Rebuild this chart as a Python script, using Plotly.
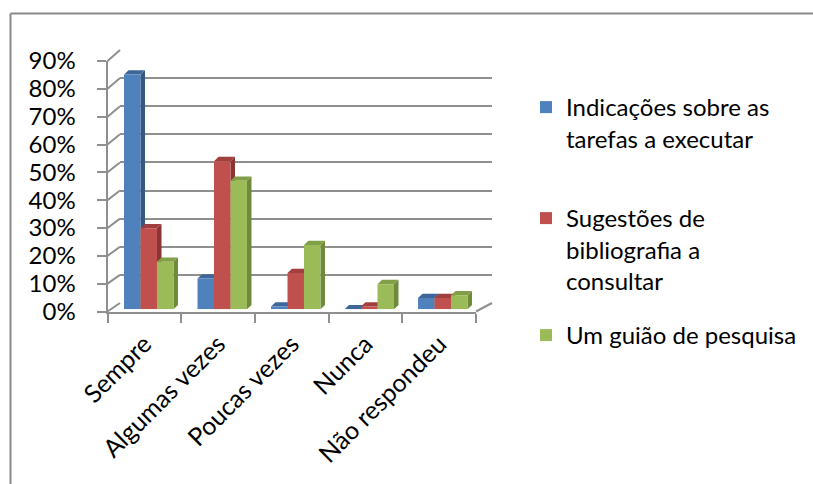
import plotly.graph_objects as go

categories = ["Sempre", "Algumas vezes", "Poucas vezes", "Nunca", "Não respondeu"]
series_names = [
    "Indicações sobre as<br>tarefas a executar",
    "Sugestões de<br>bibliografia a<br>consultar",
    "Um guião de pesquisa",
]
indicacoes = [0.84, 0.11, 0.01, 0.00, 0.04]
sugestoes = [0.29, 0.53, 0.13, 0.01, 0.04]
guiao = [0.17, 0.46, 0.23, 0.09, 0.05]
y_ticks = [0.0, 0.1, 0.2, 0.3, 0.4, 0.5, 0.6, 0.7, 0.8, 0.9]

W, H = 813, 484
FONT = "Lato"
front_colors = ["#4F81BD", "#C0504D", "#9BBB59"]
side_colors = ["#34587F", "#8A3533", "#6E8A3A"]
top_colors = ["#3E6699", "#A03F3D", "#809F47"]
axis_gray = "#8F8F8F"


def px(p):
    return p / W


def py(p):
    return 1 - p / H


YMAX = 0.9
back_x = [120, 492]
back_y0, back_y1 = 303.0, 50.0
front_x = [107.5, 476]
front_y0, front_y1 = 311.5, 61.0
bar_x = [112, 479.5]
bar_y0, bar_y1 = 309.3, 57.7

bargap = 0.327

fig = go.Figure()

fig.add_trace(go.Scatter(x=[0], y=[0], xaxis="x", yaxis="y", mode="markers",
                         marker=dict(opacity=0), showlegend=False, hoverinfo="skip"))
fig.add_trace(go.Scatter(x=categories, y=[0] * len(categories), xaxis="x2", yaxis="y2",
                         mode="markers", marker=dict(opacity=0), showlegend=False,
                         hoverinfo="skip"))

all_series = [indicacoes, sugestoes, guiao]
xs = list(range(len(categories)))
for i, (name, vals) in enumerate(zip(series_names, all_series)):
    fig.add_trace(go.Bar(
        x=xs, y=vals, name=name, xaxis="x3", yaxis="y3",
        marker=dict(color=front_colors[i], line=dict(width=0)),
        legend=["legend", "legend2", "legend3"][i],
    ))

shapes = []
bw = (1 - bargap) / 3
dx = 4.5 * (len(categories)) / (bar_x[1] - bar_x[0])
dy = 4.3 * YMAX / (bar_y0 - bar_y1)
side_shapes, top_shapes = [], []
for i, vals in enumerate(all_series):
    for k, v in enumerate(vals):
        xc = xs[k] + (i - 1) * bw
        xl, xr = xc - bw / 2, xc + bw / 2
        side_shapes.append(dict(
            type="path", xref="x3", yref="y3", layer="between",
            path=f"M {xr} 0 L {xr + dx} {dy} L {xr + dx} {v + dy} L {xr} {v} Z",
            fillcolor=side_colors[i], line=dict(width=0)))
        top_shapes.append(dict(
            type="path", xref="x3", yref="y3", layer="between",
            path=f"M {xl} {v} L {xl + dx} {v + dy} L {xr + dx} {v + dy} L {xr} {v} Z",
            fillcolor=top_colors[i], line=dict(width=0)))
shapes += side_shapes + top_shapes

for t in y_ticks:
    yf = front_y0 - (front_y0 - front_y1) * t / YMAX
    yb = back_y0 - (back_y0 - back_y1) * t / YMAX
    shapes.append(dict(type="line", xref="paper", yref="paper",
                       x0=px(front_x[0]), y0=py(yf), x1=px(back_x[0]), y1=py(yb),
                       line=dict(color=axis_gray, width=2)))
shapes.append(dict(type="line", xref="paper", yref="paper",
                   x0=px(front_x[1]), y0=py(front_y0), x1=px(back_x[1]), y1=py(back_y0),
                   line=dict(color=axis_gray, width=2)))
shapes.append(dict(type="line", xref="paper", yref="paper",
                   x0=px(10.5), y0=py(13.5), x1=1.01, y1=py(13.5),
                   line=dict(color="#8A8A8A", width=2)))
shapes.append(dict(type="line", xref="paper", yref="paper",
                   x0=px(10.5), y0=py(13.5), x1=px(10.5), y1=-0.01,
                   line=dict(color="#8A8A8A", width=2)))

tickfont = dict(family=FONT, size=24, color="#000000")
xtickfont = dict(family=FONT, size=25, color="#000000")

leg_common = dict(font=dict(family=FONT, size=24, color="#000000"), xanchor="left",
                  yanchor="top", bgcolor="rgba(0,0,0,0)", valign="top",
                  itemclick=False, itemdoubleclick=False)

fig.update_layout(
    width=W, height=H,
    margin=dict(l=0, r=0, t=0, b=0, pad=0, autoexpand=False),
    paper_bgcolor="white",
    plot_bgcolor="rgba(0,0,0,0)",
    barmode="group",
    bargap=bargap,
    bargroupgap=0,
    shapes=shapes,
    xaxis=dict(domain=[px(back_x[0]), px(back_x[1])], range=[0, 1], visible=False,
               fixedrange=True),
    yaxis=dict(domain=[py(back_y0), py(back_y1)], range=[0, YMAX], dtick=0.1,
               showgrid=True, gridcolor=axis_gray, gridwidth=2, zeroline=False,
               showticklabels=False, ticks="", showline=False, anchor="x"),
    xaxis2=dict(domain=[px(front_x[0]), px(front_x[1])], type="category",
                categoryorder="array", categoryarray=categories, range=[-0.5, 4.5],
                tickson="boundaries", ticks="outside", ticklen=9, tickwidth=2,
                tickcolor=axis_gray, showline=True, linecolor=axis_gray, linewidth=2,
                showgrid=False, tickangle=-45, tickfont=xtickfont, anchor="y2",
                ticklabelstandoff=6, automargin=False),
    yaxis2=dict(domain=[py(front_y0), py(front_y1)], range=[0, YMAX],
                tickvals=y_ticks, tickformat=".0%", ticks="outside", ticklen=9,
                tickwidth=2, tickcolor=axis_gray, showline=True, linecolor=axis_gray,
                linewidth=2, showgrid=False, zeroline=False, tickfont=tickfont,
                ticklabelstandoff=16, anchor="x2", automargin=False),
    xaxis3=dict(domain=[px(bar_x[0]), px(bar_x[1])], range=[-0.5, 4.5], visible=False),
    yaxis3=dict(domain=[py(bar_y0), py(bar_y1)], range=[0, YMAX], visible=False,
                anchor="x3"),
    legend=dict(x=px(526), y=py(85), **leg_common),
    legend2=dict(x=px(526), y=py(196), **leg_common),
    legend3=dict(x=px(526), y=py(313), **leg_common),
)

fig.write_html("out.html")
